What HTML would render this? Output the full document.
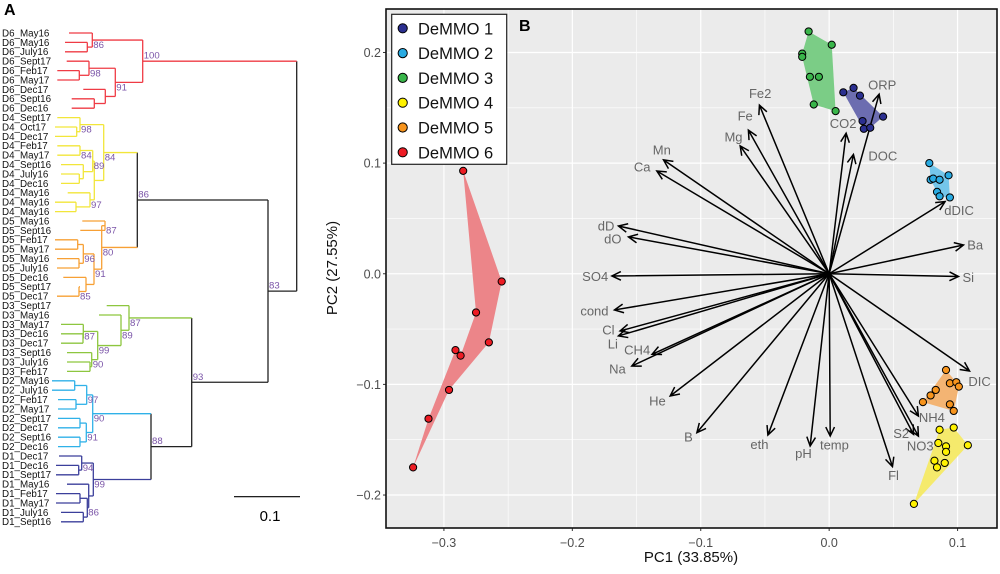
<!DOCTYPE html>
<html><head><meta charset="utf-8"><style>
html,body{margin:0;padding:0;background:#fff;}
svg{display:block;font-family:"Liberation Sans",sans-serif;}
</style></head><body>
<svg id="fig" width="1000" height="574" viewBox="0 0 1000 574">
<text x="4" y="15" font-size="16" font-weight="bold">A</text>
<g id="tree"></g>
<line x1="234" y1="496.7" x2="300" y2="496.7" stroke="#000" stroke-width="1.2"/>
<text x="270" y="521" font-size="15" text-anchor="middle">0.1</text>
<g id="pca"></g>
</svg>
<script>
// ---------- Dendrogram data ----------
const leafNames = ["D6_May16","D6_May16","D6_July16","D6_Sept17","D6_Feb17","D6_May17","D6_Dec17","D6_Sept16","D6_Dec16",
"D4_Sept17","D4_Oct17","D4_Dec17","D4_Feb17","D4_May17","D4_Sept16","D4_July16","D4_Dec16","D4_May16","D4_May16","D4_May16",
"D5_May16","D5_Sept16","D5_Feb17","D5_May17","D5_May16","D5_July16","D5_Dec16","D5_Sept17","D5_Dec17",
"D3_Sept17","D3_May16","D3_May17","D3_Dec16","D3_Dec17","D3_Sept16","D3_July16","D3_Feb17",
"D2_May16","D2_July16","D2_Feb17","D2_May17","D2_Sept17","D2_Dec17","D2_Sept16","D2_Dec16",
"D1_Dec17","D1_Dec16","D1_Sept17","D1_May16","D1_Feb17","D1_May17","D1_July16","D1_Sept16"];
const cladeColors = {D6:"#ef3b45",D4:"#f2e63a",D5:"#f7a035",D3:"#8dc63f",D2:"#2fb1e8",D1:"#3b3f9b"};
function L(i,x){return {leaf:i,x:x};}
function N(x,label,kids){return {x:x,label:label,kids:kids};}
const treeRoot = N(296.7,"",[
  N(142.7,"100",[
    N(92.3,"86",[L(0,69),N(87.3,"",[L(1,65),L(2,65)])]),
    N(115.3,"91",[
      N(89,"98",[L(3,66.7),N(79.3,"",[L(4,57.3),L(5,57.3)])]),
      N(105.3,"",[L(6,83.3),N(94.3,"",[L(7,71.7),L(8,71.7)])])])]),
  N(268,"83",[
    N(137.3,"86",[
      N(103.7,"84",[
        N(80,"98",[L(9,57.3),N(76.7,"",[L(10,55),L(11,55)])]),
        N(94.3,"",[
          N(92.7,"89",[N(80,"84",[L(12,57.3),L(13,57.3)]),N(83.3,"",[L(14,61),N(79.3,"",[L(15,61),L(16,61)])])]),
          N(90,"97",[L(17,67.7),N(76,"",[L(18,55),L(19,55)])])])]),
      N(101.7,"80",[
        N(105,"87",[L(20,82.3),L(21,80.3)]),
        N(94,"91",[
          N(83.3,"96",[N(77.7,"",[L(22,55),L(23,55)]),N(79,"",[L(24,57),L(25,57)])]),
          N(86,"",[L(26,63.3),N(79,"85",[L(27,80),L(28,57)])])])])]),
    N(191.7,"93",[
      N(129,"87",[L(29,106.7),N(121,"89",[L(30,99),
        N(97.7,"99",[N(83.3,"87",[L(31,61),N(83,"",[L(32,61),L(33,61)])]),
                     N(91.7,"90",[L(34,67),N(90,"",[L(35,67),L(36,67)])])])])]),
      N(151,"88",[
        N(92.7,"90",[N(86.7,"97",[N(74.7,"",[L(37,52),L(38,52)]),N(76,"",[L(39,58),L(40,58)])]),
                     N(86.3,"91",[N(80,"",[L(41,58),L(42,58)]),N(80,"",[L(43,58),L(44,58)])])]),
        N(93.3,"99",[N(81.7,"94",[L(45,59),N(78.7,"",[L(46,56),L(47,56)])]),
                     N(88.7,"",[L(48,67),N(87.3,"86",[N(80,"",[L(49,56),L(50,56)]),N(83.3,"",[L(51,61),L(52,61)])])])])])])])]);

const SVGNS="http://www.w3.org/2000/svg";
function mk(tag,attrs,parent){const e=document.createElementNS(SVGNS,tag);for(const k in attrs)e.setAttribute(k,attrs[k]);parent.appendChild(e);return e;}
const tree=document.getElementById("tree");
const leafY=i=>33+i*9.4;
function layout(n){
  if(n.leaf!==undefined){n.y=leafY(n.leaf);n.clade=leafNames[n.leaf].slice(0,2);return;}
  n.kids.forEach(layout);
  const ys=n.kids.map(k=>k.y);n.y=(Math.min(...ys)+Math.max(...ys))/2;
  const cl=n.kids.map(k=>k.clade);n.clade=cl.every(c=>c===cl[0])?cl[0]:null;
}
layout(treeRoot);
function drawNode(n){
  if(n.leaf!==undefined){
    const t=mk("text",{x:2,y:n.y+3.4,"font-size":"9.8",fill:"#111"},tree);
    t.textContent=leafNames[n.leaf];
    
    
    return;
  }
  const col=n.clade?cladeColors[n.clade]:"#222";
  const ys=n.kids.map(k=>k.y);
  const v=mk("line",{x1:n.x,x2:n.x,y1:Math.min(...ys),y2:Math.max(...ys),stroke:col,"stroke-width":1.3},tree);
  
  
  n.kids.forEach(k=>{
    const kc=k.clade?cladeColors[k.clade]:"#222";
    const h=mk("line",{x1:n.x,x2:k.x,y1:k.y,y2:k.y,stroke:kc,"stroke-width":1.3},tree);
    
    
    drawNode(k);
  });
  if(n.label){
    const big=n.x>130;
    const t=mk("text",{x:n.x+1,y:big?n.y-2.5:n.y+8,"font-size":"9.6",fill:"#7b55a8"},tree);
    t.textContent=n.label;
    
    
  }
}
drawNode(treeRoot);

// ---------- PCA data ----------
const groups=["DeMMO 1","DeMMO 2","DeMMO 3","DeMMO 4","DeMMO 5","DeMMO 6"];
const groupFill=["#2b2f8f","#29abe2","#39b54a","#fff200","#f7941d","#ed1c24"];
const hullFill=["#6c6db0","#74c6ea","#7bcd86","#f5ea6c","#f3b473","#ec8589"];
const pc1_g1=[0.011,0.019,0.024,0.042,0.026,0.027,0.032];
const pc2_g1=[0.164,0.168,0.161,0.142,0.138,0.131,0.132];
const pc1_g2=[0.078,0.079,0.081,0.086,0.093,0.084,0.086,0.094];
const pc2_g2=[0.100,0.085,0.086,0.085,0.089,0.074,0.070,0.069];
const pc1_g3=[-0.016,0.002,-0.021,-0.021,-0.015,-0.008,-0.012,0.005];
const pc2_g3=[0.219,0.207,0.199,0.196,0.178,0.178,0.153,0.147];
const pc1_g4=[0.086,0.097,0.085,0.091,0.108,0.091,0.082,0.090,0.084,0.066];
const pc2_g4=[-0.141,-0.139,-0.153,-0.156,-0.155,-0.161,-0.169,-0.171,-0.175,-0.208];
const pc1_g5=[0.091,0.094,0.099,0.101,0.083,0.079,0.073,0.094,0.097];
const pc2_g5=[-0.087,-0.099,-0.098,-0.102,-0.105,-0.110,-0.116,-0.118,-0.124];
const pc1_g6=[-0.285,-0.255,-0.265,-0.296,-0.324,-0.312,-0.291,-0.287,-0.275];
const pc2_g6=[0.093,-0.007,-0.062,-0.105,-0.175,-0.131,-0.069,-0.074,-0.035];
const varNames=["Fe2","Fe","Mg","Mn","Ca","CO2","DOC","ORP","dDIC","Ba","Si","dD","dO","SO4","cond","Cl","Li","CH4","Na","He","B","eth","pH","temp","Fl","S2","NO3","NH4","DIC"];
const load1=[-0.0543,-0.0629,-0.0693,-0.129,-0.1342,0.0132,0.0189,0.0389,0.0903,0.1046,0.1007,-0.1641,-0.1563,-0.1692,-0.1672,-0.1628,-0.1641,-0.1379,-0.1537,-0.1238,-0.103,-0.0477,-0.0148,0.0008,0.0493,0.0657,0.0695,0.0695,0.1093];
const load2=[0.1524,0.1298,0.1156,0.1029,0.0929,0.127,0.1078,0.1623,0.0653,0.026,-0.0025,0.0432,0.0333,-0.002,-0.0327,-0.0517,-0.0562,-0.0728,-0.0834,-0.1105,-0.1436,-0.1458,-0.1557,-0.1467,-0.1743,-0.1451,-0.1467,-0.1286,-0.0879];
const lab1=[-0.0537,-0.0654,-0.0745,-0.1303,-0.1456,0.0109,0.0418,0.0413,0.1012,0.1137,0.1083,-0.1737,-0.1685,-0.1822,-0.1828,-0.1719,-0.1685,-0.1495,-0.1649,-0.1337,-0.1096,-0.0543,-0.02,0.0041,0.0501,0.0561,0.0709,0.08,0.1171];
const lab2=[0.1629,0.1424,0.1234,0.1119,0.0963,0.1358,0.1065,0.1707,0.0571,0.026,-0.0034,0.0432,0.0312,-0.0025,-0.0336,-0.0508,-0.0637,-0.0689,-0.0863,-0.115,-0.1476,-0.1542,-0.1623,-0.1548,-0.1822,-0.1442,-0.1557,-0.13,-0.0975];
const xTicks=[-0.3,-0.2,-0.1,0.0,0.1];
const yTicks=[-0.2,-0.1,0.0,0.1,0.2];
const xLim=[-0.3451,0.1307], yLim=[-0.2298,0.2393];

const P={l:386,r:997,t:9,b:528};
const fx=v=>P.l+(v-xLim[0])/(xLim[1]-xLim[0])*(P.r-P.l);
const fy=v=>P.b-(v-yLim[0])/(yLim[1]-yLim[0])*(P.b-P.t);
const g=document.getElementById("pca");
const bg=mk("rect",{x:P.l,y:P.t,width:P.r-P.l,height:P.b-P.t,fill:"#ebebeb"},g);


function fmt(v){return (v<0?"\u2212":"")+Math.abs(v).toFixed(1);}
for(let v=-0.35;v<=0.15;v+=0.1){const x=fx(v);if(x>P.l&&x<P.r){const l=mk("line",{x1:x,x2:x,y1:P.t,y2:P.b,stroke:"#fff","stroke-width":0.6},g);}}
for(let v=-0.25;v<=0.25;v+=0.1){const y=fy(v);if(y>P.t&&y<P.b){const l=mk("line",{x1:P.l,x2:P.r,y1:y,y2:y,stroke:"#fff","stroke-width":0.6},g);}}
xTicks.forEach(v=>{const x=fx(v);
  const l=mk("line",{x1:x,x2:x,y1:P.t,y2:P.b,stroke:"#fff","stroke-width":1.2},g);
  
  const tk=mk("line",{x1:x,x2:x,y1:P.b,y2:P.b+3,stroke:"#333"},g);
  
  const t=mk("text",{x:x,y:P.b+19,"font-size":"12.5","text-anchor":"middle",fill:"#4d4d4d"},g);
  t.textContent=fmt(v);
  });
yTicks.forEach(v=>{const y=fy(v);
  const l=mk("line",{x1:P.l,x2:P.r,y1:y,y2:y,stroke:"#fff","stroke-width":1.2},g);
  
  const tk=mk("line",{x1:P.l-3,x2:P.l,y1:y,y2:y,stroke:"#333"},g);
  
  const t=mk("text",{x:P.l-5,y:y+4.5,"font-size":"12.5","text-anchor":"end",fill:"#4d4d4d"},g);
  t.textContent=fmt(v);
  });

function hull(pts){pts=pts.slice().sort((a,b)=>a[0]-b[0]||a[1]-b[1]);
  const cr=(o,a,b)=>(a[0]-o[0])*(b[1]-o[1])-(a[1]-o[1])*(b[0]-o[0]);
  const lo=[],up=[];
  for(const p of pts){while(lo.length>=2&&cr(lo[lo.length-2],lo[lo.length-1],p)<=0)lo.pop();lo.push(p);}
  for(const p of pts.slice().reverse()){while(up.length>=2&&cr(up[up.length-2],up[up.length-1],p)<=0)up.pop();up.push(p);}
  return lo.slice(0,-1).concat(up.slice(0,-1));}
const X=[pc1_g1,pc1_g2,pc1_g3,pc1_g4,pc1_g5,pc1_g6], Y=[pc2_g1,pc2_g2,pc2_g3,pc2_g4,pc2_g5,pc2_g6];
X.forEach((xs,gi)=>{
  let pts=xs.map((v,i)=>[fx(v),fy(Y[gi][i])]);
  if(gi<5) pts=hull(pts);
  const pg=mk("polygon",{points:pts.map(p=>p.join(",")).join(" "),fill:hullFill[gi]},g);
  
  
});
const ox=fx(0),oy=fy(0);
varNames.forEach((nm,i)=>{
  const x2=fx(load1[i]),y2=fy(load2[i]);
  const a=Math.atan2(y2-oy,x2-ox),h=10,sp=0.45;
  const d=`M${ox},${oy}L${x2},${y2}M${x2-h*Math.cos(a-sp)},${y2-h*Math.sin(a-sp)}L${x2},${y2}L${x2-h*Math.cos(a+sp)},${y2-h*Math.sin(a+sp)}`;
  const p=mk("path",{d:d,stroke:"#000","stroke-width":1.5,fill:"none"},g);
  
  
  const t=mk("text",{x:fx(lab1[i]),y:fy(lab2[i])+4.5,"font-size":"13","text-anchor":"middle",fill:"#666"},g);
  t.textContent=nm;
  
  
});
X.forEach((xs,gi)=>xs.forEach((v,i)=>{
  const c=mk("circle",{cx:fx(v),cy:fy(Y[gi][i]),r:3.6,fill:groupFill[gi],stroke:"#000","stroke-width":1},g);
  
  
}));
const br=mk("rect",{x:P.l,y:P.t,width:P.r-P.l,height:P.b-P.t,fill:"none",stroke:"#111","stroke-width":1.6},g);

const lg=mk("rect",{x:391.7,y:14.3,width:115,height:150,fill:"#fff",stroke:"#222","stroke-width":1.2},g);

groups.forEach((nm,i)=>{const y=28.3+i*24.8;
  const c=mk("circle",{cx:402.7,cy:y,r:4.6,fill:groupFill[i],stroke:"#000","stroke-width":1},g);
  
  const t=mk("text",{x:418,y:y+6,"font-size":"16.5",fill:"#111"},g);t.textContent=nm;
  });
const bl=mk("text",{x:519,y:31,"font-size":"16","font-weight":"bold"},g);bl.textContent="B";

const xt=mk("text",{x:691,y:562,"font-size":"15","text-anchor":"middle",fill:"#111"},g);xt.textContent="PC1 (33.85%)";

const yt=mk("text",{x:0,y:0,"font-size":"15","text-anchor":"middle",fill:"#111",transform:"translate(337,268) rotate(-90)"},g);yt.textContent="PC2 (27.55%)";

</script>
</body></html>
